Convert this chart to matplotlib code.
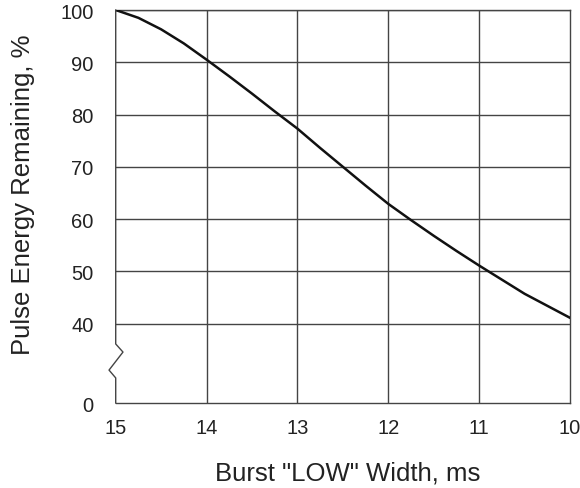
import matplotlib.pyplot as plt
from matplotlib.transforms import blended_transform_factory

plt.rcParams['font.family'] = ['Liberation Sans', 'DejaVu Sans']

# values
width_ms = [15, 14.75, 14.5, 14.25, 14, 13.75, 13.5, 13.25, 13, 12.75, 12.5,
            12.25, 12, 11.75, 11.5, 11.25, 11, 10.75, 10.5, 10.25, 10]
energy_pct = [100, 98.5, 96.3, 93.6, 90.5, 87.3, 84.0, 80.6, 77.3, 73.6, 70.0,
              66.4, 62.9, 59.8, 56.8, 53.9, 51.1, 48.4, 45.7, 43.4, 41.1]

x_ticks = [15, 14, 13, 12, 11, 10]
y_ticks = [40, 50, 60, 70, 80, 90, 100]
y_zero_pos = 24.8  # where the "0" label sits below the axis break

grid_color = '#444444'
text_color = '#222222'

fig = plt.figure(figsize=(5.8, 4.89), dpi=100)
ax = fig.add_axes([0.1995, 0.1738, 0.7833, 0.8037])

ax.set_xlim(15, 10)
ax.set_ylim(y_zero_pos, 100)

# grid
for x in x_ticks[1:-1]:
    ax.axvline(x, color=grid_color, lw=1.0, zorder=1)
for y in y_ticks:
    ax.axhline(y, color=grid_color, lw=1.0, zorder=1)

ax.plot(width_ms, energy_pct, color='#111111', lw=1.8, zorder=3,
        solid_joinstyle='round')

ax.set_xticks(x_ticks)
ax.set_xticklabels([str(v) for v in x_ticks])
ax.set_yticks([y_zero_pos] + y_ticks)
ax.set_yticklabels(['0'] + [str(v) for v in y_ticks])
ax.tick_params(length=0, labelsize=14.5, colors=text_color)
ax.tick_params(axis='x', pad=11)
ax.tick_params(axis='y', pad=16)

for side in ['top', 'right', 'bottom']:
    ax.spines[side].set_color(grid_color)
    ax.spines[side].set_linewidth(1.0)
ax.spines['left'].set_visible(False)

# left spine with zigzag break
trans = blended_transform_factory(ax.transAxes, ax.transData)
ax.plot([0, 0, 0.016, -0.0147, 0, 0],
        [100, 36.1, 34.55, 31.1, 29.6, y_zero_pos],
        color=grid_color, lw=1.0, transform=trans, clip_on=False, zorder=4)

ax.set_xlabel('Burst "LOW" Width, ms', fontsize=18.5, color=text_color)
ax.set_ylabel('Pulse Energy Remaining, %', fontsize=18.5, color=text_color)
ax.xaxis.set_label_coords(0.51, -0.147)
ax.yaxis.set_label_coords(-0.178, 0.532)

plt.savefig('out.png')
